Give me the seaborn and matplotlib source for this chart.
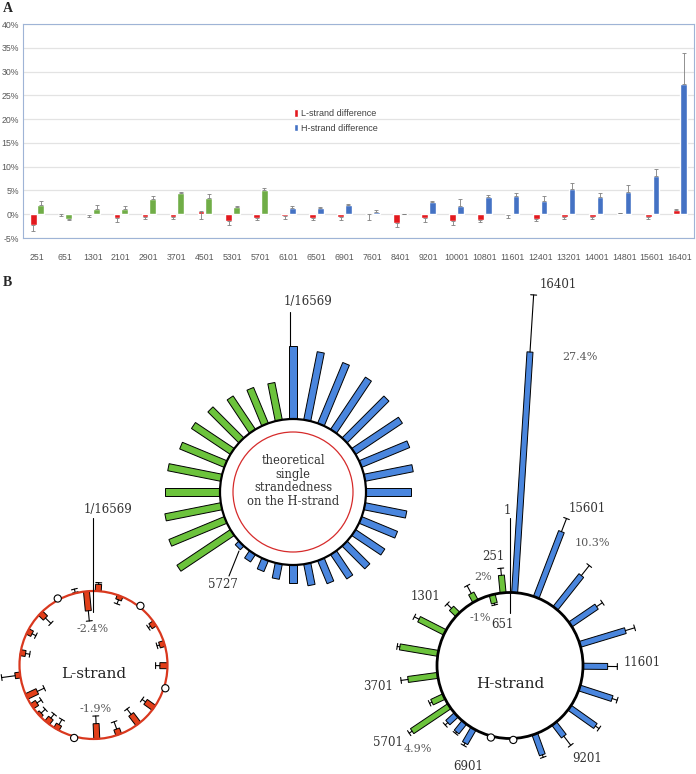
"""
Strand difference chart: bar chart of L/H-strand differences (panel A)
and the circular genome maps of the same values (panel B).
"""

import matplotlib
matplotlib.use("Agg")  # Non-interactive backend for file output
import matplotlib.pyplot as plt
from matplotlib.patches import Circle, Patch, Polygon
import numpy as np
import pandas as pd
import seaborn as sns

GENOME_LENGTH = 16569

# Panel A data (percent)
POSITIONS = [251, 651, 1301, 2101, 2901, 3701, 4501, 5301, 5701, 6101, 6501, 6901,
             7601, 8401, 9201, 10001, 10801, 11601, 12401, 13201, 14001, 14801, 15601, 16401]
L_DIFF = [-2.3, 0.1, -0.1, -0.8, -0.6, -0.6, 0.6, -1.4, -0.7, -0.35, -0.7, -0.6,
          0.0, -1.8, -0.7, -1.4, -1.2, -0.2, -0.9, -0.6, -0.6, 0.2, -0.5, 0.8]
L_ERR_TIP = [-3.5, -0.3, -0.5, -1.7, -1.1, -1.1, -1.0, -2.3, -1.3, -1.0, -1.3, -1.3,
             -1.3, -2.7, -1.6, -2.2, -1.7, -0.8, -1.4, -0.9, -0.9, 0.2, -1.0, 1.0]
H_DIFF = [2.0, -1.0, 1.0, 1.0, 3.3, 4.4, 3.4, 1.5, 5.1, 1.3, 1.4, 1.9,
          0.5, 0.0, 2.5, 1.8, 3.6, 3.9, 2.8, 5.4, 3.6, 4.75, 8.0, 27.4]
H_ERR_TIP = [2.8, -1.2, 2.0, 1.7, 3.9, 4.7, 4.2, 1.8, 5.5, 1.7, 1.6, 2.2,
             0.8, 0.0, 2.8, 3.1, 4.1, 4.5, 3.9, 6.5, 4.4, 6.2, 9.6, 33.9]
LAST_EARLY_POSITION = 5701   # H-strand bars up to here are drawn green
Y_TICKS = [-5, 0, 5, 10, 15, 20, 25, 30, 35, 40]

# Positions drawn as open circles (no difference) in panel B
L_ZERO = [1301, 7601, 11601, 14801]
H_ZERO = [7601, 8401]

# Theoretical single strandedness, 32 slots from the top going counter-clockwise
THEORY_VALUES = [100, 52, 53, 55, 60, 64, 66, 74, 75, 78, 82, 88,
                 7, 12, 16, 21, 25, 30, 34, 40, 44, 48, 53, 58,
                 62, 67, 71, 77, 81, 86, 90, 95]
THEORY_GREEN_SLOTS = 11

RED_A = "#E3191E"
GREEN_A = "#70AD47"
BLUE_A = "#4472C4"
RED_B = "#E2401A"
GREEN_B = "#6CC33C"
BLUE_B = "#4A86DE"
GREY_TXT = "#595959"

SERIF = ["DejaVu Serif"]
SANS = ["Liberation Sans", "DejaVu Sans"]


def radial_bar(ax, cx, cy, phi, r0, r1, half, color):
    """Bar from radius r0 to r1 at angle phi (counter-clockwise from top)."""
    u = np.array([-np.sin(phi), -np.cos(phi)])
    t = np.array([np.cos(phi), -np.sin(phi)])
    c = np.array([cx, cy])
    pts = [c + r0 * u - half * t, c + r1 * u - half * t,
           c + r1 * u + half * t, c + r0 * u + half * t]
    ax.add_patch(Polygon(pts, closed=True, facecolor=color, edgecolor="black",
                         lw=0.7, zorder=3))


def radial_err(ax, cx, cy, phi, r0, r1, cap=3.0):
    """Error whisker along the radius with a cap at r1."""
    u = np.array([-np.sin(phi), -np.cos(phi)])
    t = np.array([np.cos(phi), -np.sin(phi)])
    c = np.array([cx, cy])
    p0, p1 = c + r0 * u, c + r1 * u
    ax.plot([p0[0], p1[0]], [p0[1], p1[1]], color="black", lw=0.8, zorder=3)
    ax.plot([p1[0] - cap * t[0], p1[0] + cap * t[0]],
            [p1[1] - cap * t[1], p1[1] + cap * t[1]], color="black", lw=0.8, zorder=3)


def strand_circle(ax, cx, cy, radius, values, tips, zeros, colors, scale, ring_color, ring_lw):
    """Draw one genome circle with radial difference bars."""
    for pos, v, tip, col in zip(POSITIONS, values, tips, colors):
        phi = np.deg2rad(pos / GENOME_LENGTH * 360)
        if pos in zeros:
            px = cx - (radius + 1.5) * np.sin(phi)
            py = cy - (radius + 1.5) * np.cos(phi)
            ax.add_patch(Circle((px, py), 3.6, facecolor="white", edgecolor="black",
                                lw=0.8, zorder=5))
            continue
        r1 = radius + v * scale
        radial_bar(ax, cx, cy, phi, radius, r1, 3.0, col)
        ext = abs(tip - v) * scale
        if ext > 0.5:
            sign = 1 if v >= 0 else -1
            radial_err(ax, cx, cy, phi, r1, r1 + sign * ext)
    ax.add_patch(Circle((cx, cy), radius, fill=False, edgecolor=ring_color,
                        lw=ring_lw, zorder=4))


sns.set_theme(style="white")
plt.rcParams["font.family"] = SANS

fig = plt.figure(figsize=(6.96, 7.74), dpi=100)

# ---------------- Panel A ----------------
ax = fig.add_axes([23 / 696, 1 - 238 / 774, 671 / 696, 214 / 774])
n = len(POSITIONS)
df = pd.DataFrame({
    "position": [str(p) for p in POSITIONS] * 2,
    "strand": ["L-strand difference"] * n + ["H-strand difference"] * n,
    "value": L_DIFF + H_DIFF,
})
sns.barplot(data=df, x="position", y="value", hue="strand",
            palette=[RED_A, BLUE_A], width=0.55, gap=0.12, saturation=1,
            errorbar=None, legend=False, ax=ax, zorder=3)

# Early H-strand bars are green
for pos, bar in zip(POSITIONS, ax.containers[1]):
    if pos <= LAST_EARLY_POSITION:
        bar.set_facecolor(GREEN_A)

# One-sided error bars
for container, vals, tips in [(ax.containers[0], L_DIFF, L_ERR_TIP),
                              (ax.containers[1], H_DIFF, H_ERR_TIP)]:
    xs = [b.get_x() + b.get_width() / 2 for b in container]
    lower = [max(v - t, 0) for v, t in zip(vals, tips)]
    upper = [max(t - v, 0) for v, t in zip(vals, tips)]
    ax.errorbar(xs, vals, yerr=[lower, upper], fmt="none", ecolor="#7f7f7f",
                elinewidth=0.6, capsize=1.2, capthick=0.6, zorder=4)

ax.set_ylim(-5, 40)
ax.set_xlim(-0.5, n - 0.5)
ax.set_yticks(Y_TICKS)
ax.set_yticklabels([f"{t}%" for t in Y_TICKS])
ax.set_xlabel("")
ax.set_ylabel("")
ax.tick_params(axis="both", length=0, labelsize=6.3, colors=GREY_TXT)
ax.tick_params(axis="x", pad=11)
ax.tick_params(axis="y", pad=3)
ax.grid(axis="y", color="#E3E3E3", lw=0.9, zorder=0)
for sp in ax.spines.values():
    sp.set_color("#9FB4D6")
    sp.set_linewidth(0.8)

handles = [Patch(facecolor=RED_A), Patch(facecolor=BLUE_A)]
ax.legend(handles, ["L-strand difference", "H-strand difference"],
          loc="center left", bbox_to_anchor=(0.392, 0.547), frameon=False,
          fontsize=6.5, handlelength=0.45, handleheight=0.9, handletextpad=0.35,
          labelspacing=0.6, labelcolor="#404040")

# ---------------- Panel B ----------------
bx = fig.add_axes([0, 0, 1, 1])
bx.set_xlim(0, 696)
bx.set_ylim(774, 0)
bx.axis("off")

bx.text(3, 9, "A", fontsize=10, fontweight="bold", family=["Liberation Serif"],
        va="center", ha="left")
bx.text(3, 283, "B", fontsize=10, fontweight="bold", family=["Liberation Serif"],
        va="center", ha="left")

# Theoretical circle
tcx, tcy, tr = 293, 492, 73
step = 360 / len(THEORY_VALUES)
for k, val in enumerate(THEORY_VALUES):
    col = GREEN_B if 1 <= k <= THEORY_GREEN_SLOTS else BLUE_B
    radial_bar(bx, tcx, tcy, np.deg2rad(k * step), tr, tr + val * 0.73, 3.6, col)
bx.add_patch(Circle((tcx, tcy), tr, fill=False, edgecolor="black", lw=1.6, zorder=4))
bx.add_patch(Circle((tcx, tcy), 60, fill=False, edgecolor="#D62B2B", lw=0.9, zorder=4))
bx.text(tcx, 481, "theoretical\nsingle\nstrandedness\non the H-strand", ha="center",
        va="center", fontsize=8.3, family=SERIF, color="#333333", linespacing=1.05)
top_tip = tcy - tr - THEORY_VALUES[0] * 0.73
bx.plot([290, 290], [312, top_tip], color="black", lw=0.8)
bx.text(308, 302, "1/16569", ha="center", va="center", fontsize=8.5, family=SERIF,
        color="#333333")
bx.plot([229, 239], [576, 551], color="black", lw=0.8)
bx.text(223, 585, "5727", ha="center", va="center", fontsize=8.5, family=SERIF,
        color="#333333")

# L-strand circle
strand_circle(bx, 93.5, 665, 74, L_DIFF, L_ERR_TIP, L_ZERO, [RED_B] * n,
              8.5, "#D9381E", 1.6)
bx.plot([93, 93], [518, 612], color="black", lw=0.8, zorder=6)
bx.text(108, 510, "1/16569", ha="center", va="center", fontsize=8.5, family=SERIF,
        color="#333333")
bx.text(93, 629, "-2.4%", ha="center", va="center", fontsize=8, family=SERIF,
        color=GREY_TXT)
bx.text(94, 674, "L-strand", ha="center", va="center", fontsize=11, family=SERIF,
        color="#222222")
bx.text(96, 709, "-1.9%", ha="center", va="center", fontsize=8, family=SERIF,
        color=GREY_TXT)

# H-strand circle
h_colors = [GREEN_B if p <= LAST_EARLY_POSITION else BLUE_B for p in POSITIONS]
strand_circle(bx, 510, 665.5, 73, H_DIFF, H_ERR_TIP, H_ZERO, h_colors,
              8.8, "black", 2.0)
bx.plot([510, 510], [518, 613], color="black", lw=0.8, zorder=6)
h_labels = [
    ("16401", 558, 285, "#333333"), ("27.4%", 580, 357, GREY_TXT),
    ("1", 507, 511, "#333333"), ("15601", 587, 508, "#333333"),
    ("10.3%", 592, 543, GREY_TXT), ("251", 493, 557, "#333333"),
    ("2%", 483, 577, GREY_TXT), ("1301", 425, 597, "#333333"),
    ("-1%", 480, 618, GREY_TXT), ("651", 502, 625, "#333333"),
    ("11601", 642, 663, "#333333"), ("3701", 378, 687, "#333333"),
    ("5701", 388, 742, "#333333"), ("4.9%", 418, 749, GREY_TXT),
    ("6901", 468, 767, "#333333"), ("9201", 587, 759, "#333333"),
]
for txt, x, y, col in h_labels:
    size = 8 if "%" in txt else 8.5
    bx.text(x, y, txt, ha="center", va="center", fontsize=size, family=SERIF, color=col)
bx.text(510, 684, "H-strand", ha="center", va="center", fontsize=11, family=SERIF,
        color="#222222")

fig.savefig("out.png", dpi=100)
plt.close(fig)
